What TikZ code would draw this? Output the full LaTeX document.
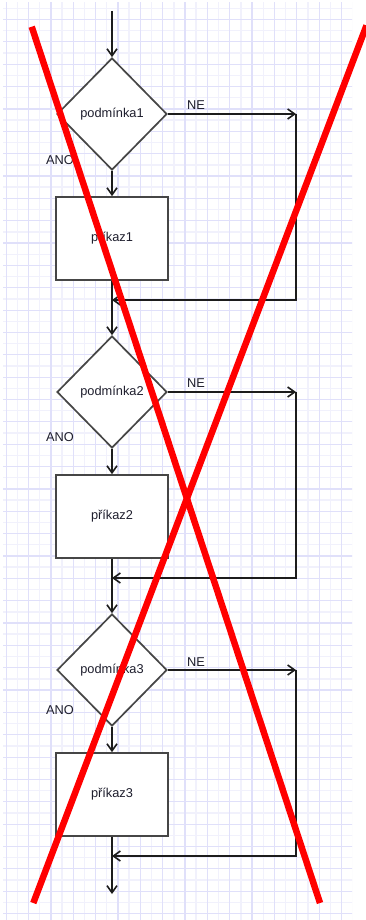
\documentclass[tikz,border=0pt]{standalone}
\usepackage{fontspec}
\setmainfont{Liberation Sans}
\usetikzlibrary{shapes.geometric,arrows.meta}
\definecolor{gridmajor}{RGB}{224,224,250}
\definecolor{gridminor}{RGB}{241,241,252}
\definecolor{shapeline}{RGB}{70,70,70}
\definecolor{conn}{RGB}{28,28,28}
\definecolor{txt}{RGB}{30,30,45}
\definecolor{crossred}{RGB}{255,0,0}
\tikzset{
  labelfont/.style={font=\fontsize{12.8}{14}\selectfont, text=txt},
  cond/.style={diamond, draw=shapeline, fill=white, line width=1.7pt,
    minimum width=110pt, minimum height=112pt, inner sep=0pt, labelfont},
  act/.style={rectangle, draw=shapeline, fill=white, line width=1.7pt,
    minimum width=112pt, minimum height=83pt, inner sep=0pt, labelfont},
  flow/.style={draw=conn, line width=1.6pt,
    -{Straight Barb[length=7pt,width=10pt,line width=1.6pt]}},
  lbl/.style={labelfont, inner sep=0pt},
  xline/.style={draw=crossred, line width=6.5pt},
}
\begin{document}
\begin{tikzpicture}[x=1pt,y=-1pt]
  \useasboundingbox (0,0) rectangle (366,920);
  \fill[white] (0,0) rectangle (366,920);

  % squared paper
  \begin{scope}
    \clip (3,3) rectangle (352,920);
    \foreach \k in {-1,...,15}
      \draw[gridminor, line width=1.4pt] ({17.375+22.35*\k},0) -- ++(0,920);
    \foreach \k in {-1,...,41}
      \draw[gridminor, line width=1.4pt] (0,{8.375+22.35*\k}) -- ++(366,0);
    \foreach \k in {0,...,15}
      \draw[gridmajor, line width=1.2pt] ({6.2+22.35*\k},0) -- ++(0,920);
    \foreach \k in {-1,...,41}
      \draw[gridmajor, line width=1.2pt] (0,{19.55+22.35*\k}) -- ++(366,0);
  \end{scope}

  % flow chart nodes
  \coordinate (start) at (112,11);
  \node[cond] (d1) at (112,114) {podmínka1};
  \node[act]  (r1) at (112,238.5) {příkaz1};
  \coordinate (t1) at (296,114);
  \coordinate (j1) at (112,300);

  \node[cond] (d2) at (112,392) {podmínka2};
  \node[act]  (r2) at (112,516.5) {příkaz2};
  \coordinate (t2) at (296,392);
  \coordinate (j2) at (112,578);

  \node[cond] (d3) at (112,670) {podmínka3};
  \node[act]  (r3) at (112,794.5) {příkaz3};
  \coordinate (t3) at (296,670);
  \coordinate (j3) at (112,856);
  \coordinate (end) at (112,894);

  \node[lbl] (ne1) at (196,105) {NE};
  \node[lbl] (ano1) at (60,160) {ANO};
  \node[lbl] (ne2) at (196,383) {NE};
  \node[lbl] (ano2) at (60,437) {ANO};
  \node[lbl] (ne3) at (196,662) {NE};
  \node[lbl] (ano3) at (60,710) {ANO};

  % connectors
  \draw[flow] (start) -- (d1.north);
  \draw[flow] (d1.east) -- (t1);
  \draw[flow] (t1) |- (j1);
  \draw[flow] (d1.south) -- (r1.north);
  \draw[flow] (r1.south) -- (d2.north);
  \draw[flow] (d2.east) -- (t2);
  \draw[flow] (t2) |- (j2);
  \draw[flow] (d2.south) -- (r2.north);
  \draw[flow] (r2.south) -- (d3.north);
  \draw[flow] (d3.east) -- (t3);
  \draw[flow] (t3) |- (j3);
  \draw[flow] (d3.south) -- (r3.north);
  \draw[flow] (r3.south) -- (end);

  % red cross over everything
  \draw[xline] (31.7,26.7) -- (320,903);
  \draw[xline] (366.5,25.5) -- (33.3,903);
\end{tikzpicture}
\end{document}
